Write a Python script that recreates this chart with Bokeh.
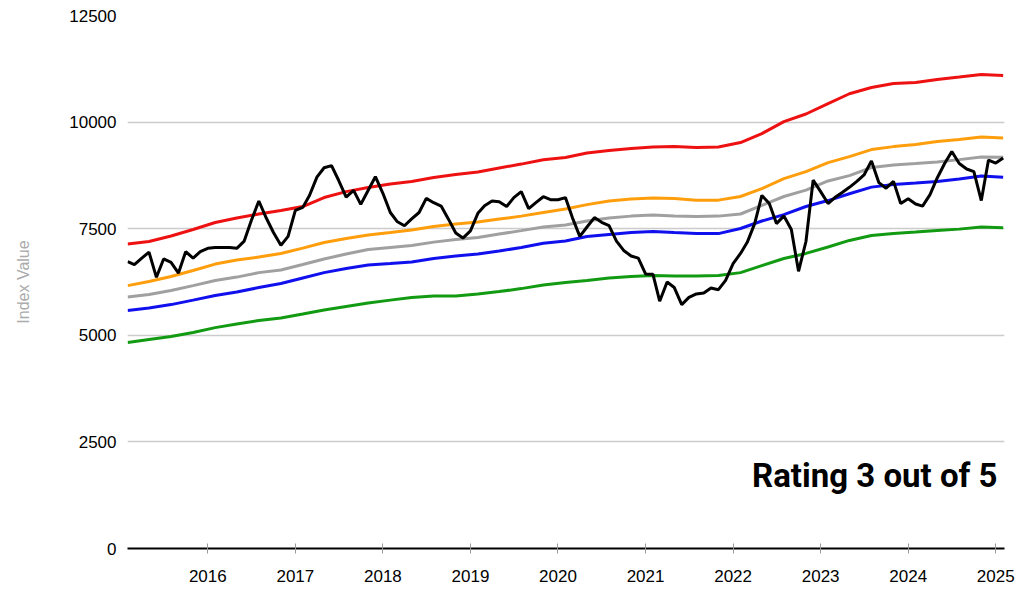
import pandas as pd
from bokeh.plotting import figure
from bokeh.models import Range1d, FixedTicker, Label
from bokeh.embed import file_html
from bokeh.resources import INLINE

# ---- data ----
index_start = "2015-02-01"   # monthly series
index_values = [
    6730, 6660, 6810, 6950, 6360, 6790, 6710, 6460, 6960, 6810, 6960, 7040,
    7060, 7060, 7060, 7040, 7210, 7700, 8150, 7750, 7410, 7110, 7320, 7930,
    8000, 8280, 8710, 8930, 8980, 8630, 8240, 8400, 8070, 8400, 8720, 8330,
    7880, 7670, 7570, 7730, 7880, 8210, 8110, 8030, 7730, 7400, 7280, 7450,
    7860, 8040, 8150, 8130, 8020, 8230, 8370, 7970, 8110, 8250, 8180, 8180,
    8230, 7760, 7320, 7540, 7760, 7650, 7570, 7210, 6990, 6860, 6810, 6440,
    6430, 5800, 6250, 6120, 5720, 5890, 5970, 5990, 6110, 6070, 6290, 6680,
    6920, 7180, 7620, 8280, 8090, 7620, 7800, 7480, 6500, 7200, 8640, 8370,
    8090, 8230, 8350, 8470, 8610, 8760, 9090, 8580, 8450, 8610, 8090, 8200,
    8080, 8030, 8300, 8690, 9030, 9310, 9030, 8900, 8840, 8160, 9110, 9040,
    9160,
]

band_start = "2015-02-01"    # quarterly series
band_red = [7140, 7200, 7330, 7480, 7645, 7750, 7845, 7925, 8020, 8230, 8370,
            8465, 8550, 8605, 8700, 8770, 8830, 8925, 9015, 9115, 9170, 9275,
            9335, 9380, 9415, 9425, 9405, 9415, 9520, 9730, 10010, 10190, 10435,
            10665, 10810, 10905, 10930, 11000, 11055, 11115, 11090]
band_orange = [6165, 6260, 6380, 6520, 6670, 6765, 6835, 6920, 7045, 7175, 7270,
               7350, 7410, 7470, 7550, 7610, 7655, 7725, 7795, 7880, 7960, 8065,
               8150, 8195, 8220, 8210, 8170, 8170, 8255, 8440, 8675, 8840, 9050,
               9190, 9355, 9425, 9475, 9545, 9590, 9650, 9630]
band_gray = [5900, 5955, 6050, 6165, 6285, 6365, 6470, 6530, 6660, 6790, 6905,
             7010, 7060, 7105, 7185, 7245, 7295, 7375, 7455, 7540, 7585, 7680,
             7750, 7795, 7820, 7800, 7785, 7795, 7845, 8045, 8255, 8405, 8620,
             8745, 8935, 8995, 9030, 9065, 9120, 9180, 9175]
band_blue = [5580, 5640, 5720, 5825, 5935, 6015, 6120, 6215, 6345, 6470, 6565,
             6650, 6685, 6720, 6800, 6860, 6905, 6975, 7060, 7160, 7210, 7315,
             7365, 7410, 7435, 7410, 7385, 7385, 7505, 7680, 7830, 8020, 8160,
             8320, 8475, 8535, 8570, 8605, 8665, 8735, 8705]
band_green = [4830, 4900, 4970, 5065, 5180, 5265, 5345, 5405, 5500, 5595, 5675,
              5755, 5825, 5885, 5920, 5920, 5970, 6025, 6095, 6180, 6240, 6285,
              6345, 6380, 6400, 6390, 6390, 6400, 6470, 6635, 6800, 6920, 7070,
              7225, 7340, 7385, 7420, 7455, 7490, 7540, 7520]

year_ticks = [2016, 2017, 2018, 2019, 2020, 2021, 2022, 2023, 2024, 2025]
year_labels = ["2016", "2017", "2018", "2019", "2020", "2021", "2022", "2023", "2024", "2025"]
y_ticks = [0, 2500, 5000, 7500, 10000, 12500]
y_labels = ["0", "2500", "5000", "7500", "10000", "12500"]
rating_text = "Rating 3 out of 5"
y_title = "Index Value"


def dec_years(dates):
    return [d.year + (d.dayofyear - 1) / 365.25 for d in dates]


x_index = dec_years(pd.date_range(index_start, periods=len(index_values), freq="MS"))
x_band = dec_years(pd.date_range(band_start, periods=len(band_red), freq="3MS"))

FONT = "Liberation Sans"

p = figure(width=1033, height=591, output_backend="svg", toolbar_location=None,
           x_range=Range1d(2015.083, 2025.1), y_range=Range1d(0, 12500),
           min_border_left=127, min_border_right=29, min_border_top=15, min_border_bottom=43)
p.outline_line_color = None
p.background_fill_color = "white"
p.border_fill_color = "white"

# grid
p.xgrid.grid_line_color = None
p.ygrid.grid_line_color = "#cccccc"
p.ygrid.grid_line_width = 1.5
p.ygrid.ticker = FixedTicker(ticks=y_ticks)

# x axis
xa = p.xaxis[0]
xa.ticker = FixedTicker(ticks=year_ticks)
xa.major_label_overrides = {t: l for t, l in zip(year_ticks, year_labels)}
xa.axis_line_color = "black"
xa.axis_line_width = 2
xa.major_tick_line_color = "#999999"
xa.major_tick_in = 5
xa.major_tick_out = 5
xa.minor_tick_line_color = None
xa.major_label_standoff = 16
xa.major_label_text_font = FONT
xa.major_label_text_font_size = "17px"
xa.major_label_text_color = "#000000"

# y axis
ya = p.yaxis[0]
ya.ticker = FixedTicker(ticks=y_ticks)
ya.major_label_overrides = {t: l for t, l in zip(y_ticks, y_labels)}
ya.axis_line_color = None
ya.major_tick_line_color = None
ya.minor_tick_line_color = None
ya.major_tick_out = 0
ya.major_tick_in = 0
ya.major_label_standoff = 11
ya.major_label_text_font = FONT
ya.major_label_text_font_size = "17px"
ya.major_label_text_color = "#000000"
ya.axis_label = y_title
ya.axis_label_text_font = FONT
ya.axis_label_text_font_size = "16px"
ya.axis_label_text_font_style = "normal"
ya.axis_label_text_color = "#aaaaaa"
ya.axis_label_standoff = 34

# bands
p.line(x_band, band_green, line_color="#129b12", line_width=3)
p.line(x_band, band_blue, line_color="#1010ee", line_width=3)
p.line(x_band, band_gray, line_color="#a0a0a0", line_width=3)
p.line(x_band, band_orange, line_color="#ff9e0d", line_width=3)
p.line(x_band, band_red, line_color="#ee1111", line_width=3)

# index
p.line(x_index, index_values, line_color="#000000", line_width=3)

p.add_layout(Label(x=2025.02, y=1712, text=rating_text, text_align="right",
                   text_baseline="alphabetic", text_font="Roboto",
                   text_font_style="bold", text_font_size="33px", text_color="#000000"))

open("out.html", "w").write(file_html(p, INLINE))
